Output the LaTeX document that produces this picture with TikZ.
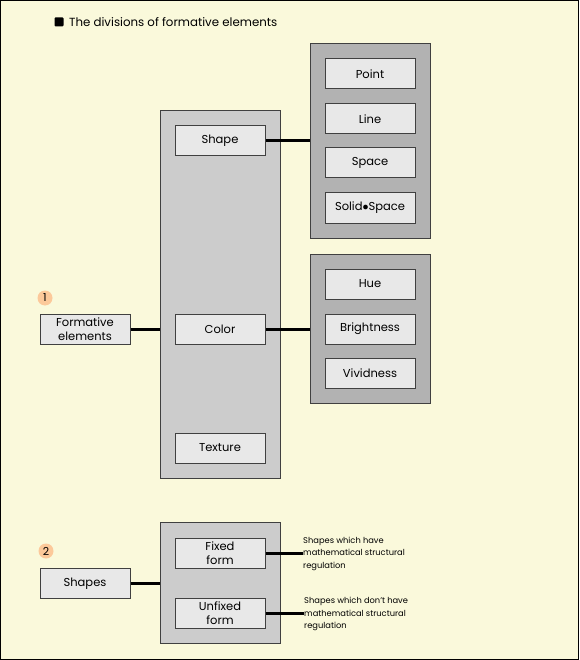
\documentclass[tikz,border=0pt]{standalone}
\usepackage{fontspec}
\setmainfont{Poppins}
\usetikzlibrary{positioning}

\definecolor{paper}{HTML}{FAF9DB}
\definecolor{peach}{HTML}{FCC99A}

\begin{document}
\begin{tikzpicture}[x=1pt,y=-1pt,
    panel/.style={draw=black!75, fill=black!20, line width=1pt, minimum width=120pt},
    subpanel/.style={panel, fill=black!30},
    item/.style={draw=black!75, fill=black!9, line width=1pt, minimum width=90pt,
        minimum height=30pt, inner sep=1pt, font=\fontsize{11.5}{14.5}\selectfont, align=center},
    link/.style={line width=3pt},
    num/.style={circle, fill=peach, inner sep=0pt, minimum size=15pt, font=\fontsize{11}{11}\selectfont},
    note/.style={anchor=west, align=left, inner sep=0pt, font=\fontsize{8.3}{12.5}\selectfont}]

    % background and frame
    \draw[fill=paper, line width=1pt] (0.5,0.5) rectangle (578.5,659.5);

    % title
    \node[fill=black, rounded corners=1pt, minimum size=9pt, inner sep=0pt] (bullet) at (59,22) {};
    \node[anchor=west, inner sep=0pt, font=\fontsize{11.8}{14}\selectfont] (title) at (69,22) {The divisions of formative elements};

    % part 1
    \node[panel, minimum height=367pt] (elements) at (220,294.5) {};
    \node[subpanel, minimum height=194pt] (shapes) at (370,141) {};
    \node[subpanel, minimum height=149pt] (colors) at (370,328.5) {};

    \node[item] (shape) at (220,141) {Shape};
    \node[item] (color) at (220,329) {Color};
    \node[item] (texture) at (220,448) {Texture};

    \node[item] (point) at (370,74) {Point};
    \node[item] (line) at (370,119) {Line};
    \node[item] (space) at (370,163) {Space};
    \node[item] (solid) at (370,208) {Solid$\bullet$Space};

    \node[item] (hue) at (370,284) {Hue};
    \node[item] (bright) at (370,329) {Brightness};
    \node[item] (vivid) at (370,373) {Vividness};

    \node[item] (formative) at (85,329) {Formative\\elements};
    \node[num] (one) at (45,298) {1};

    \draw[link] (formative.east) -- (formative.east -| elements.west);
    \draw[link] (shape.east) -- (shape.east -| shapes.west);
    \draw[link] (color.east) -- (color.east -| colors.west);

    % part 2
    \node[panel, minimum height=121pt] (forms) at (220,582.5) {};
    \node[item] (fixed) at (220,553) {Fixed\\form};
    \node[item] (unfixed) at (220,613) {Unfixed\\form};

    \node[item] (shapesbox) at (85,583.5) {Shapes};
    \node[num] (two) at (46,551) {2};

    \node[note] (fixednote) at (303,553.5) {Shapes which have\\mathematical structural\\regulation};
    \node[note] (unfixednote) at (304,614) {Shapes which don't have\\mathematical structural\\regulation};

    \draw[link] (shapesbox.east) -- (shapesbox.east -| forms.west);
    \draw[link] (fixed.east) -- (fixed.east -| fixednote.west);
    \draw[link] (unfixed.east) -- (unfixed.east -| unfixednote.west);
\end{tikzpicture}
\end{document}
